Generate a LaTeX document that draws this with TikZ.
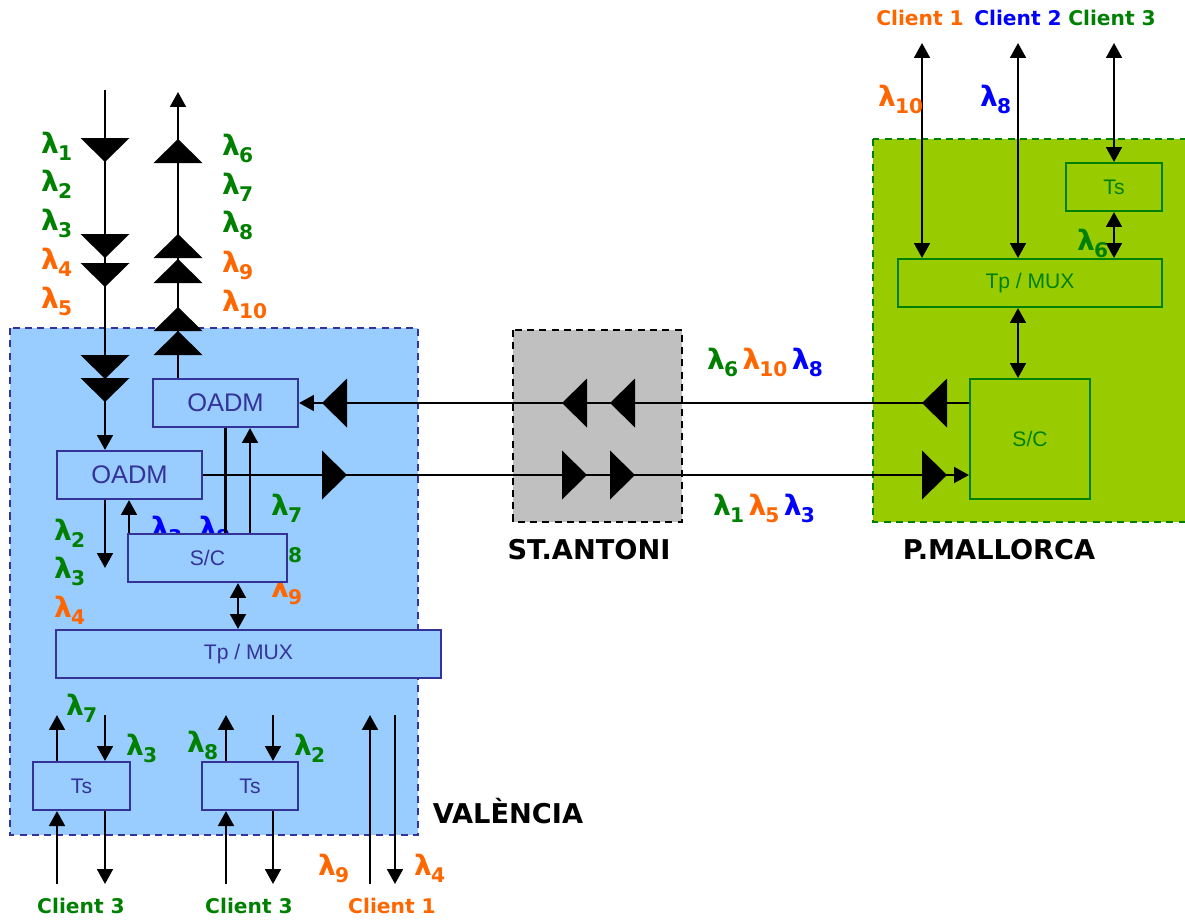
\documentclass[tikz,border=0pt]{standalone}
\usepackage{fontspec}
\setmainfont{Liberation Sans}
\newfontfamily\lblfont{DejaVu Sans}
\usetikzlibrary{arrows.meta}
\definecolor{vblue}{RGB}{153,204,255}
\definecolor{dkblue}{RGB}{51,51,153}
\definecolor{stgray}{RGB}{192,192,192}
\definecolor{pmgreen}{RGB}{153,204,0}
\definecolor{lgreen}{RGB}{0,128,0}
\definecolor{lorange}{RGB}{255,102,0}
\definecolor{lblue}{RGB}{0,0,255}
% lambda with subscript
\newcommand{\lmb}[1]{λ\kern-.5pt\raisebox{-.45ex}{\fontsize{11.5}{11.5}\selectfont#1}}
\tikzset{
  vbox/.style={draw=dkblue, fill=vblue, line width=1.2pt, inner sep=0pt, text=dkblue, font=\fontsize{12}{12}\selectfont},
  mbox/.style={draw=lgreen, fill=pmgreen, line width=1.2pt, inner sep=0pt, text=lgreen, font=\fontsize{12}{12}\selectfont},
  lam/.style={font=\lblfont\bfseries\fontsize{16}{16}\selectfont, inner sep=0pt, anchor=west},
  client/.style={font=\lblfont\bfseries\fontsize{11.5}{11.5}\selectfont, inner sep=0pt},
  station/.style={font=\lblfont\bfseries\fontsize{15.5}{15.5}\selectfont, inner sep=0pt},
  site/.style={dashed, dash pattern=on 4pt off 3pt, line width=1.2pt},
}
\begin{document}
\begin{tikzpicture}[x=0.02cm, y=-0.02cm, line width=1.3pt, >={Triangle[length=8.5pt,width=9pt]}]
\useasboundingbox (0,0) rectangle (1185,920);
% sites
\draw[site, draw=dkblue, fill=vblue] (10,328) rectangle (418,835);
\draw[site, draw=black, fill=stgray] (513,330) rectangle (682,522);
\draw[site, draw=lgreen, fill=pmgreen] (873,139) rectangle (1188,522);
\node[station] (valencia) at (508,811) {VALÈNCIA};
\node[station] (antoni) at (589,550) {ST.ANTONI};
\node[station] (mallorca) at (999,550) {P.MALLORCA};
% hidden labels under S/C
\node[lam, text=lblue] (hb1) at (150,530) {\lmb{3}};
\node[lam, text=lblue] (hb2) at (198,530) {\lmb{8}};
\node[lam, text=lgreen] (s8) at (270,548) {\lmb{8}};
\node[lam, text=lorange] (s9) at (270,590) {\lmb{9}};
% Valencia nodes
\node[vbox, minimum width=2.9cm, minimum height=0.96cm, font=\fontsize{14.5}{14.5}\selectfont] (oadmA) at (225.5,403) {OADM};
\node[vbox, minimum width=2.9cm, minimum height=0.96cm, font=\fontsize{14.5}{14.5}\selectfont] (oadmB) at (129.5,475) {OADM};
\node[vbox, minimum width=3.18cm, minimum height=0.96cm] (scV) at (207.5,558) {S/C};
\node[vbox, minimum width=7.7cm, minimum height=0.96cm] (muxV) at (248.5,654) {Tp / MUX};
\node[vbox, minimum width=1.94cm, minimum height=0.96cm] (tsA) at (81.5,786) {Ts};
\node[vbox, minimum width=1.92cm, minimum height=0.96cm] (tsB) at (250,786) {Ts};
% Mallorca nodes
\node[mbox, minimum width=1.92cm, minimum height=0.96cm] (tsM) at (1114,187) {Ts};
\node[mbox, minimum width=5.28cm, minimum height=0.96cm] (muxM) at (1030,283) {Tp / MUX};
\node[mbox, minimum width=2.4cm, minimum height=2.4cm] (scM) at (1030,439) {S/C};
% fibre in/out at Valencia
\coordinate (fin) at (105,90);
\coordinate (fout) at (178,92);
\draw[->] (fin) -- (fin |- oadmB.north);
\draw[->] (fout |- oadmA.north) -- (fout);
\foreach \y in {138,234,263,355,378}
  \fill (105-24.5,\y) -- (105+24.5,\y) -- (105,\y+24) -- cycle;
\foreach \y in {139,234,259,307,331}
  \fill (178,\y) -- (178-24.5,\y+24) -- (178+24.5,\y+24) -- cycle;
% link Valencia - Mallorca
\draw[->] (oadmA.east -| scM.west) -- (oadmA.east);
\draw[->] (oadmB.east) -- (oadmB.east -| scM.west);
\foreach \x in {322,562,610,922}
  \fill (\x,403) -- (\x+25,378.5) -- (\x+25,427.5) -- cycle;
\foreach \x in {347,587,635,947}
  \fill (\x,475) -- (\x-25,450.5) -- (\x-25,499.5) -- cycle;
% inside Valencia
\coordinate (drop) at (105,568);
\draw (oadmA.south) -- (oadmA.south |- scV.north);
\draw[->] (scV.north -| 250,0) -- (oadmA.south -| 250,0);
\draw[->] (scV.north -| 129,0) -- (oadmB.south -| 129,0);
\draw[->] (oadmB.south -| 105,0) -- (drop);
\draw[<->] (scV.south -| 238,0) -- (muxV.north -| 238,0);
\foreach \t/\l/\r in {tsA/57/105, tsB/226/273}{
  \draw[->] (\t.north -| \l,0) -- (\l,715);
  \draw[->] (\r,715) -- (\t.north -| \r,0);
  \draw[->] (\l,884) -- (\t.south -| \l,0);
  \draw[->] (\t.south -| \r,0) -- (\r,884);
}
\draw[->] (370,884) -- (370,715);
\draw[->] (395,715) -- (395,884);
% inside Mallorca
\draw[<->] (922,43) -- (muxM.north -| 922,0);
\draw[<->] (1018,43) -- (muxM.north -| 1018,0);
\draw[<->] (1114,43) -- (tsM.north);
\draw[<->] (tsM.south) -- (tsM.south |- muxM.north);
\draw[<->] (muxM.south -| 1018,0) -- (scM.north -| 1018,0);
% wavelength labels
\foreach \n/\y/\c in {1/146/lgreen, 2/184/lgreen, 3/223/lgreen, 4/262/lorange, 5/301/lorange}
  \node[lam, text=\c] (lin\n) at (40,\y) {\lmb{\n}};
\foreach \n/\y/\c in {6/148/lgreen, 7/187/lgreen, 8/225/lgreen, 9/265/lorange, 10/304/lorange}
  \node[lam, text=\c] (lout\n) at (221,\y) {\lmb{\n}};
\path
  (53,533) node[lam, text=lgreen] (d2) {\lmb{2}}
  (53,571) node[lam, text=lgreen] (d3) {\lmb{3}}
  (53,610) node[lam, text=lorange] (d4) {\lmb{4}}
  (270,508) node[lam, text=lgreen] (s7) {\lmb{7}}
  (65,708) node[lam, text=lgreen] (ta7) {\lmb{7}}
  (125,748) node[lam, text=lgreen] (ta3) {\lmb{3}}
  (186,745) node[lam, text=lgreen] (tb8) {\lmb{8}}
  (293,748) node[lam, text=lgreen] (tb2) {\lmb{2}}
  (317,868) node[lam, text=lorange] (c9) {\lmb{9}}
  (413,868) node[lam, text=lorange] (c4) {\lmb{4}}
  (877,99) node[lam, text=lorange] (m10) {\lmb{10}}
  (979,99) node[lam, text=lblue] (m8) {\lmb{8}}
  (1076,243) node[lam, text=lgreen] (m6) {\lmb{6}}
  (706,362) node[lam] (west) {\textcolor{lgreen}{\lmb{6}}\hspace{2.5pt}\textcolor{lorange}{\lmb{10}}\hspace{2.5pt}\textcolor{lblue}{\lmb{8}}}
  (712,508) node[lam] (east) {\textcolor{lgreen}{\lmb{1}}\hspace{2.5pt}\textcolor{lorange}{\lmb{5}}\hspace{2.5pt}\textcolor{lblue}{\lmb{3}}};
% clients
\path
  (81,906) node[client, text=lgreen] (cv3a) {Client 3}
  (249,906) node[client, text=lgreen] (cv3b) {Client 3}
  (392,906) node[client, text=lorange] (cv1) {Client 1}
  (920,18) node[client, text=lorange] (cm1) {Client 1}
  (1018,18) node[client, text=lblue] (cm2) {Client 2}
  (1112,18) node[client, text=lgreen] (cm3) {Client 3};
\end{tikzpicture}
\end{document}
